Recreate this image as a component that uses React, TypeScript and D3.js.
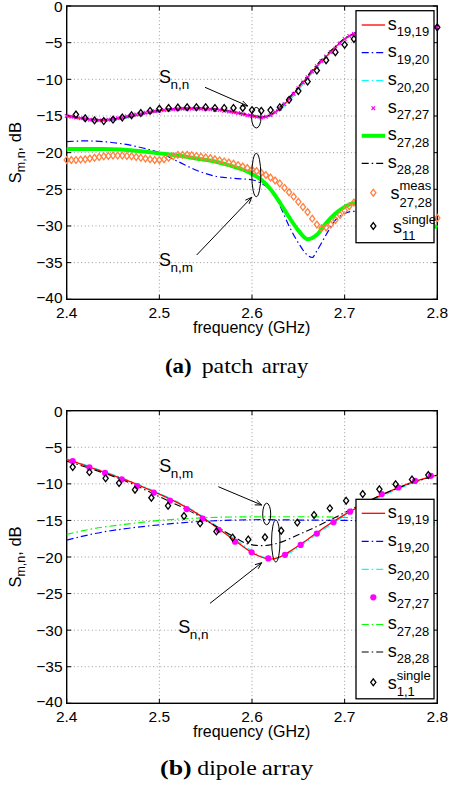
import React from "react";
import * as d3 from "d3";

// ---------- axis ticks ----------
const xTicks = [2.4, 2.5, 2.6, 2.7, 2.8];
const xTickLabels = ["2.4", "2.5", "2.6", "2.7", "2.8"];
const yTicks = [-40, -35, -30, -25, -20, -15, -10, -5, 0];
const yTickLabels = ["\u221240", "\u221235", "\u221230", "\u221225", "\u221220", "\u221215", "\u221210", "\u22125", "0"];

// ---------- (a) patch array ----------
const fineFreq = [
  2.400, 2.405, 2.410, 2.415, 2.420, 2.425, 2.430, 2.435, 2.440, 2.445,
  2.450, 2.455, 2.460, 2.465, 2.470, 2.475, 2.480, 2.485, 2.490, 2.495,
  2.500, 2.505, 2.510, 2.515, 2.520, 2.525, 2.530, 2.535, 2.540, 2.545,
  2.550, 2.555, 2.560, 2.565, 2.570, 2.575, 2.580, 2.585, 2.590, 2.595,
  2.600, 2.605, 2.610, 2.615, 2.620, 2.625, 2.630, 2.635, 2.640, 2.645,
  2.650, 2.655, 2.660, 2.665, 2.670, 2.675, 2.680, 2.685, 2.690, 2.695,
  2.700, 2.705, 2.710, 2.715, 2.720, 2.725, 2.730, 2.735, 2.740, 2.745,
  2.750, 2.755, 2.760, 2.765, 2.770, 2.775, 2.780, 2.785, 2.790, 2.795,
  2.800,
];
const patchS2727 = [
  -15.0, -15.1, -15.2, -15.3, -15.4, -15.5, -15.55, -15.6, -15.6, -15.5,
  -15.4, -15.3, -15.2, -15.05, -14.9, -14.8, -14.7, -14.55, -14.45, -14.35,
  -14.3, -14.2, -14.15, -14.1, -14.05, -14.0, -14.0, -14.0, -14.0, -14.0,
  -14.05, -14.1, -14.15, -14.2, -14.3, -14.4, -14.5, -14.6, -14.75, -14.9,
  -15.0, -15.1, -15.2, -15.1, -14.9, -14.5, -14.0, -13.4, -12.7, -12.0,
  -11.2, -10.45, -9.7, -8.95, -8.2, -7.5, -6.9, -6.3, -5.8, -5.1,
  -4.5, -4.1, -3.8, -3.5, -3.3, -3.15, -3.05, -2.95, -2.9, -2.85,
  -2.8, -2.8, -2.8, -2.8, -2.8, -2.8, -2.85, -2.85, -2.9, -2.9,
  -2.9,
];
const patchS2728meas = [
  -21.0, -21.0, -21.0, -20.95, -20.9, -20.8, -20.7, -20.6, -20.5, -20.45,
  -20.4, -20.4, -20.4, -20.45, -20.5, -20.6, -20.7, -20.8, -20.9, -21.0,
  -21.0, -20.9, -20.7, -20.5, -20.3, -20.3, -20.3, -20.35, -20.45, -20.55,
  -20.65, -20.75, -20.9, -21.05, -21.2, -21.35, -21.5, -21.7, -21.9, -22.1,
  -22.3, -22.5, -22.75, -23.05, -23.4, -23.8, -24.2, -24.8, -25.4, -26.0,
  -26.7, -27.4, -28.1, -29.0, -29.8, -30.3, -30.2, -29.8, -29.2, -28.5,
  -27.9, -27.3, -26.8, -26.6, -26.5, -26.5, -26.6, -26.7, -26.9, -27.1,
  -27.3, -27.5, -27.7, -27.9, -28.1, -28.3, -28.5, -28.6, -28.7, -28.8,
  -28.9,
];
const patchSelfFreq = [2.40, 2.42, 2.44, 2.46, 2.48, 2.50, 2.52, 2.54, 2.56, 2.58, 2.60, 2.61, 2.62, 2.63, 2.64, 2.65, 2.66, 2.67, 2.68, 2.69, 2.70, 2.71, 2.72, 2.74, 2.76, 2.78, 2.80];
const patchS1919 = [-15.0, -15.4, -15.6, -15.3, -14.8, -14.3, -14.05, -14.0, -14.1, -14.5, -15.0, -15.2, -14.9, -14.0, -12.7, -11.2, -9.7, -8.2, -6.9, -5.6, -4.5, -3.8, -3.35, -2.95, -2.8, -2.85, -2.9];
const patchS2020 = [-15.1, -15.5, -15.7, -15.4, -14.9, -14.4, -14.1, -14.05, -14.15, -14.55, -15.05, -15.25, -15.0, -14.2, -13.0, -11.5, -9.9, -8.4, -7.0, -5.7, -4.6, -3.9, -3.4, -3.0, -2.85, -2.85, -2.9];
const patchS2828 = [-14.9, -15.3, -15.5, -15.2, -14.7, -14.2, -13.95, -13.9, -14.0, -14.4, -14.9, -15.1, -14.8, -13.8, -12.5, -11.0, -9.5, -8.0, -6.7, -5.5, -4.4, -3.7, -3.3, -2.9, -2.8, -2.8, -2.9];
const patchS1920Freq = [2.40, 2.42, 2.44, 2.46, 2.48, 2.50, 2.52, 2.54, 2.56, 2.58, 2.60, 2.61, 2.62, 2.63, 2.64, 2.65, 2.66, 2.665, 2.67, 2.68, 2.69, 2.70, 2.71, 2.73, 2.76, 2.80];
const patchS1920 = [-18.5, -18.4, -18.5, -18.8, -19.3, -20.0, -21.2, -22.4, -23.2, -23.5, -23.7, -24.2, -25.1, -27.2, -30.0, -32.3, -34.0, -34.3, -33.4, -31.2, -29.2, -28.3, -28.0, -28.2, -29.2, -31.0];
const patchS2728Freq = [2.40, 2.44, 2.48, 2.50, 2.52, 2.54, 2.56, 2.58, 2.59, 2.60, 2.61, 2.62, 2.63, 2.64, 2.65, 2.66, 2.67, 2.68, 2.69, 2.70, 2.71, 2.73, 2.76, 2.80];
const patchS2728 = [-19.5, -19.5, -19.8, -20.1, -20.4, -20.8, -21.2, -21.9, -22.3, -22.9, -23.7, -25.0, -26.8, -28.8, -30.6, -31.8, -31.2, -29.6, -28.3, -27.4, -26.9, -26.9, -28.0, -30.2];
const patchSingleFreq = [2.41, 2.42, 2.43, 2.44, 2.45, 2.46, 2.47, 2.48, 2.49, 2.50, 2.51, 2.52, 2.53, 2.54, 2.55, 2.56, 2.57, 2.58, 2.59, 2.60, 2.61, 2.62, 2.63, 2.64, 2.65, 2.66, 2.67, 2.68, 2.69, 2.70, 2.71, 2.72, 2.73, 2.74, 2.75, 2.76, 2.77, 2.78, 2.79, 2.80];
const patchSingle = [-14.8, -15.3, -15.6, -15.7, -15.5, -15.2, -14.9, -14.6, -14.3, -14.0, -13.9, -13.85, -13.8, -13.8, -13.8, -13.9, -13.9, -13.9, -13.9, -14.2, -14.3, -14.2, -13.8, -12.8, -11.6, -10.3, -8.8, -7.4, -6.3, -5.3, -4.5, -3.9, -3.5, -3.2, -3.0, -2.9, -2.85, -2.85, -2.9, -2.9];

// ---------- (b) dipole array ----------
const dipSelfFreq = [2.40, 2.42, 2.44, 2.46, 2.48, 2.50, 2.52, 2.54, 2.56, 2.58, 2.60, 2.61, 2.62, 2.63, 2.64, 2.66, 2.68, 2.70, 2.72, 2.74, 2.76, 2.78, 2.80];
const dipS1919 = [-6.7, -7.5, -8.4, -9.3, -10.3, -11.4, -12.6, -14.0, -15.8, -17.6, -19.4, -20.0, -20.3, -20.0, -19.3, -17.6, -15.8, -14.2, -12.8, -11.5, -10.4, -9.5, -8.8];
const dipS2020 = [-6.6, -7.4, -8.3, -9.2, -10.2, -11.3, -12.5, -13.9, -15.6, -17.4, -19.2, -19.9, -20.3, -20.1, -19.5, -17.8, -16.0, -14.4, -13.0, -11.7, -10.6, -9.6, -8.9];
const dipS2727Freq = [2.4065, 2.4245, 2.4414, 2.4594, 2.476, 2.494, 2.5115, 2.5295, 2.5468, 2.564, 2.5817, 2.5996, 2.6176, 2.6356, 2.6525, 2.670, 2.688, 2.7058, 2.7238, 2.740, 2.758, 2.776, 2.793];
const dipS2727 = [-6.9, -7.75, -8.5, -9.4, -10.3, -11.2, -12.3, -13.45, -14.75, -16.3, -17.9, -19.35, -20.2, -19.7, -18.35, -16.8, -15.25, -13.8, -12.6, -11.4, -10.5, -9.6, -8.9];
const dipS2828Freq = [2.40, 2.43, 2.465, 2.50, 2.537, 2.562, 2.58, 2.595, 2.61, 2.625, 2.652, 2.688, 2.713, 2.74, 2.77, 2.80];
const dipS2828 = [-6.9, -8.1, -9.7, -11.75, -14.0, -15.85, -17.2, -18.2, -18.45, -18.2, -16.85, -14.7, -13.1, -11.5, -10.0, -8.8];
const dipS2728Freq = [2.40, 2.43, 2.465, 2.50, 2.537, 2.57, 2.61, 2.66, 2.70, 2.74, 2.77, 2.80];
const dipS2728 = [-16.9, -16.1, -15.5, -15.0, -14.7, -14.55, -14.5, -14.5, -14.6, -14.9, -15.2, -15.6];
const dipS1920Freq = [2.40, 2.43, 2.465, 2.50, 2.537, 2.57, 2.61, 2.65, 2.70, 2.75, 2.80];
const dipS1920 = [-17.7, -16.8, -16.1, -15.6, -15.2, -15.0, -14.9, -14.95, -15.0, -15.1, -15.3];
const dipSingleFreq = [2.4065, 2.4245, 2.442, 2.4565, 2.4737, 2.4914, 2.5094, 2.5266, 2.544, 2.5616, 2.579, 2.596, 2.614, 2.6315, 2.6489, 2.667, 2.684, 2.7016, 2.7195, 2.7375, 2.755, 2.7727, 2.7903];
const dipSingle = [-7.7, -8.4, -9.25, -9.9, -10.8, -11.9, -13.0, -14.4, -15.4, -16.5, -17.35, -17.6, -17.3, -16.4, -15.3, -14.25, -13.35, -12.3, -11.4, -10.75, -10.05, -9.4, -8.8];

// ---------- legends ----------
const patchLegend = [
  { sub: "19,19", sup: "" }, { sub: "19,20", sup: "" }, { sub: "20,20", sup: "" }, { sub: "27,27", sup: "" },
  { sub: "27,28", sup: "" }, { sub: "28,28", sup: "" }, { sub: "27,28", sup: "meas" }, { sub: "11", sup: "single" },
];
const dipoleLegend = [
  { sub: "19,19", sup: "" }, { sub: "19,20", sup: "" }, { sub: "20,20", sup: "" }, { sub: "27,27", sup: "" },
  { sub: "27,28", sup: "" }, { sub: "28,28", sup: "" }, { sub: "1,1", sup: "single" },
];

// ---------- styling ----------
const SANS = "'Liberation Sans', Arial, Helvetica, sans-serif";
const SERIF = "'Liberation Serif', 'Times New Roman', serif";
const DASHDOT = "7,3,1.5,3";
const X_LEFT = 66.7;
const X_RIGHT = 437.3;
const RED = "#ff0000", BLUE = "#0000ff", CYAN = "#00ffff", MAG = "#ff00ff", GREEN = "#00ff00", ORANGE = "#ff8040";

type Pt = [number, number];
const zip = (f: number[], v: number[]): Pt[] => f.map((x, i) => [x, v[i]]);
const diamond = "M0,-3.4L2.6,0L0,3.4L-2.6,0Z";

function Arrow({ x1, y1, x2, y2 }: { x1: number; y1: number; x2: number; y2: number }) {
  const a = Math.atan2(y2 - y1, x2 - x1);
  const L = 7, s = 0.38;
  const p1 = [x2 - L * Math.cos(a - s), y2 - L * Math.sin(a - s)];
  const p2 = [x2 - L * Math.cos(a + s), y2 - L * Math.sin(a + s)];
  return (
    <g stroke="#000" strokeWidth={1} fill="none">
      <line x1={x1} y1={y1} x2={x2} y2={y2} />
      <path d={`M${p1[0]},${p1[1]}L${x2},${y2}L${p2[0]},${p2[1]}`} />
    </g>
  );
}

function SLabel({ x, y, main, sub }: { x: number; y: number; main: string; sub: string }) {
  return (
    <text fontFamily={SANS} fill="#000">
      <tspan x={x} y={y} fontSize={18}>{main}</tspan>
      <tspan x={x + 11.5} y={y + 6} fontSize={13.5}>{sub}</tspan>
    </text>
  );
}

function Frame({ yTop, yBot, x, y }: { yTop: number; yBot: number; x: any; y: any }) {
  const tl = 4.5;
  return (
    <g>
      {xTicks.slice(1, -1).map((t) => (
        <line key={"gx" + t} x1={x(t)} x2={x(t)} y1={yTop} y2={yBot} stroke="#9a9a9a" strokeWidth={1} strokeDasharray="1,2.6" />
      ))}
      {yTicks.slice(1, -1).map((t) => (
        <line key={"gy" + t} x1={X_LEFT} x2={X_RIGHT} y1={y(t)} y2={y(t)} stroke="#9a9a9a" strokeWidth={1} strokeDasharray="1,2.6" />
      ))}
      <rect x={X_LEFT} y={yTop} width={X_RIGHT - X_LEFT} height={yBot - yTop} fill="none" stroke="#000" strokeWidth={1.4} />
      {xTicks.map((t) => (
        <g key={"tx" + t}>
          <line x1={x(t)} x2={x(t)} y1={yBot} y2={yBot - tl} stroke="#000" />
          <line x1={x(t)} x2={x(t)} y1={yTop} y2={yTop + tl} stroke="#000" />
        </g>
      ))}
      {yTicks.map((t) => (
        <g key={"ty" + t}>
          <line x1={X_LEFT} x2={X_LEFT + tl} y1={y(t)} y2={y(t)} stroke="#000" />
          <line x1={X_RIGHT} x2={X_RIGHT - tl} y1={y(t)} y2={y(t)} stroke="#000" />
        </g>
      ))}
      {xTicks.map((t, i) => (
        <text key={"lx" + t} x={x(t)} y={yBot + 18.5} textAnchor="middle" fontFamily={SANS} fontSize={15.5} fill="#000">
          {xTickLabels[i]}
        </text>
      ))}
      {yTicks.map((t, i) => (
        <text key={"ly" + t} x={62.5} y={y(t) + (t === -40 ? 4 : t === 0 ? 6 : 5.5)} textAnchor="end" fontFamily={SANS} fontSize={15.5} fill="#000">
          {yTickLabels[i]}
        </text>
      ))}
      <text x={251.7} y={yBot + 33.5} textAnchor="middle" fontFamily={SANS} fontSize={16} fill="#000">frequency (GHz)</text>
      <text transform={`translate(20.5, ${(yTop + yBot) / 2}) rotate(-90)`} textAnchor="middle" fontFamily={SANS} fill="#000">
        <tspan fontSize={16.5}>S</tspan>
        <tspan fontSize={12.5} dy={4.5}>m,n</tspan>
        <tspan fontSize={16.5} dy={-4.5}>, dB</tspan>
      </text>
    </g>
  );
}

function LegendEntryText({ lx, ly, sub, sup }: { lx: number; ly: number; sub: string; sup: string }) {
  if (!sup) {
    return (
      <text fontFamily={SANS} fill="#000">
        <tspan x={lx} y={ly + 4.5} fontSize={18}>s</tspan>
        <tspan x={lx + 9} y={ly + 11} fontSize={13}>{sub}</tspan>
      </text>
    );
  }
  return (
    <text fontFamily={SANS} fill="#000">
      <tspan x={lx} y={ly + 6.5} fontSize={18}>s</tspan>
      <tspan x={lx + 9} y={ly - 2.5} fontSize={13}>{sup}</tspan>
      <tspan x={lx + 9} y={ly + 14} fontSize={13}>{sub}</tspan>
    </text>
  );
}

function Caption({ y, tag, words }: { y: number; tag: [string, number, number]; words: [string, number, number][] }) {
  return (
    <g fontFamily={SERIF} fill="#000" fontSize={21}>
      <text x={tag[1]} y={y} fontWeight="bold" textLength={tag[2]} lengthAdjust="spacingAndGlyphs">{tag[0]}</text>
      {words.map((w) => (
        <text key={w[0]} x={w[1]} y={y} textLength={w[2]} lengthAdjust="spacingAndGlyphs">{w[0]}</text>
      ))}
    </g>
  );
}

export default function App() {
  const x = d3.scaleLinear().domain([2.4, 2.8]).range([X_LEFT, X_RIGHT]);
  const yA = d3.scaleLinear().domain([-40, 0]).range([299.3, 6]);
  const yB = d3.scaleLinear().domain([-40, 0]).range([703.3, 410.7]);
  const lineA = d3.line<Pt>().x((d) => x(d[0])).y((d) => yA(d[1])).curve(d3.curveMonotoneX);
  const lineB = d3.line<Pt>().x((d) => x(d[0])).y((d) => yB(d[1])).curve(d3.curveMonotoneX);

  // legend geometry
  const legX0 = 356, legX1 = 434;
  const sampA = [25, 52.7, 80.5, 108.2, 135.8, 163.4, 192.7, 226];
  const sampB = [513.3, 541.3, 569.3, 597.3, 624.5, 652, 682.3];
  const lineFrom = 361.7, lineTo = 385, mk = 373.3;

  return (
    <svg width={451} height={787} style={{ position: "absolute", left: 0, top: 0, background: "#fff" }}>
      <rect x={0} y={0} width={451} height={787} fill="#fff" />
      {/* ===== (a) patch array ===== */}
      <Frame yTop={6} yBot={299.3} x={x} y={yA} />
      <g fill="none">
        <path d={lineA(zip(patchS1920Freq, patchS1920)) || ""} stroke={BLUE} strokeWidth={1.2} strokeDasharray={DASHDOT} />
        <path d={lineA(zip(patchS2728Freq, patchS2728)) || ""} stroke={GREEN} strokeWidth={4} />
        <path d={lineA(zip(patchSelfFreq, patchS2020)) || ""} stroke={CYAN} strokeWidth={1.2} strokeDasharray={DASHDOT} />
        <path d={lineA(zip(patchSelfFreq, patchS1919)) || ""} stroke={RED} strokeWidth={1.3} />
        <path d={lineA(zip(patchSelfFreq, patchS2828)) || ""} stroke="#000" strokeWidth={1.1} strokeDasharray={DASHDOT} />
      </g>
      <g stroke={MAG} strokeWidth={1.2}>
        {zip(fineFreq, patchS2727).map((d, i) => (
          <path key={"mx" + i} d={`M${x(d[0]) - 1.8},${yA(d[1]) - 1.8}L${x(d[0]) + 1.8},${yA(d[1]) + 1.8}M${x(d[0]) - 1.8},${yA(d[1]) + 1.8}L${x(d[0]) + 1.8},${yA(d[1]) - 1.8}`} />
        ))}
      </g>
      <g fill="none" stroke={ORANGE} strokeWidth={1.3}>
        {zip(fineFreq, patchS2728meas).map((d, i) => (
          <path key={"od" + i} d={diamond} transform={`translate(${x(d[0])},${yA(d[1])})`} />
        ))}
      </g>
      <g fill="none" stroke="#000" strokeWidth={1.3}>
        {zip(patchSingleFreq, patchSingle).map((d, i) => (
          <path key={"bd" + i} d={diamond} transform={`translate(${x(d[0])},${yA(d[1])})`} />
        ))}
      </g>
      <SLabel x={159} y={82.7} main="S" sub="n,n" />
      <SLabel x={159} y={265.5} main="S" sub="n,m" />
      <Arrow x1={205} y1={87.3} x2={247.7} y2={106} />
      <Arrow x1={196.7} y1={255} x2={251.7} y2={197.3} />
      <ellipse cx={256.3} cy={117.7} rx={4.7} ry={10.3} fill="none" stroke="#000" strokeWidth={1} />
      <ellipse cx={256.3} cy={175} rx={4.5} ry={21.7} fill="none" stroke="#000" strokeWidth={1} />
      {/* legend a */}
      <rect x={legX0} y={10.7} width={legX1 - legX0} height={232} fill="#fff" stroke="#000" strokeWidth={1.3} />
      <line x1={lineFrom} x2={lineTo} y1={sampA[0]} y2={sampA[0]} stroke={RED} strokeWidth={1.3} />
      <line x1={lineFrom} x2={lineTo} y1={sampA[1]} y2={sampA[1]} stroke={BLUE} strokeWidth={1.2} strokeDasharray={DASHDOT} />
      <line x1={lineFrom} x2={lineTo} y1={sampA[2]} y2={sampA[2]} stroke={CYAN} strokeWidth={1.2} strokeDasharray={DASHDOT} />
      <path d={`M${mk - 1.8},${sampA[3] - 1.8}L${mk + 1.8},${sampA[3] + 1.8}M${mk - 1.8},${sampA[3] + 1.8}L${mk + 1.8},${sampA[3] - 1.8}`} stroke={MAG} strokeWidth={1.2} />
      <line x1={lineFrom} x2={lineTo} y1={sampA[4]} y2={sampA[4]} stroke={GREEN} strokeWidth={4} />
      <line x1={lineFrom} x2={lineTo} y1={sampA[5]} y2={sampA[5]} stroke="#000" strokeWidth={1.1} strokeDasharray={DASHDOT} />
      <path d={diamond} transform={`translate(${mk},${sampA[6]})`} fill="none" stroke={ORANGE} strokeWidth={1.3} />
      <path d={diamond} transform={`translate(${mk},${sampA[7]})`} fill="none" stroke="#000" strokeWidth={1.3} />
      {patchLegend.map((e, i) => (
        <LegendEntryText key={"la" + i} lx={i === 6 ? 390.5 : i === 7 ? 393 : 387.7} ly={sampA[i]} sub={e.sub} sup={e.sup} />
      ))}
      <Caption y={372.5} tag={["(a)", 165, 26.7]} words={[["patch", 201.7, 51.6], ["array", 261.7, 46.6]]} />

      {/* ===== (b) dipole array ===== */}
      <Frame yTop={410.7} yBot={703.3} x={x} y={yB} />
      <g fill="none">
        <path d={lineB(zip(dipS1920Freq, dipS1920)) || ""} stroke={BLUE} strokeWidth={1.2} strokeDasharray={DASHDOT} />
        <path d={lineB(zip(dipS2728Freq, dipS2728)) || ""} stroke={GREEN} strokeWidth={1.2} strokeDasharray={DASHDOT} />
        <path d={lineB(zip(dipSelfFreq, dipS2020)) || ""} stroke={CYAN} strokeWidth={1.2} strokeDasharray={DASHDOT} />
        <path d={lineB(zip(dipSelfFreq, dipS1919)) || ""} stroke={RED} strokeWidth={1.3} />
        <path d={lineB(zip(dipS2828Freq, dipS2828)) || ""} stroke="#000" strokeWidth={1.1} strokeDasharray={DASHDOT} />
      </g>
      <g fill={MAG}>
        {zip(dipS2727Freq, dipS2727).map((d, i) => (
          <circle key={"mc" + i} cx={x(d[0])} cy={yB(d[1])} r={3.1} />
        ))}
      </g>
      <g fill="none" stroke="#000" strokeWidth={1.3}>
        {zip(dipSingleFreq, dipSingle).map((d, i) => (
          <path key={"bb" + i} d={diamond} transform={`translate(${x(d[0])},${yB(d[1])})`} />
        ))}
      </g>
      <SLabel x={159.3} y={471.5} main="S" sub="n,m" />
      <SLabel x={178.3} y={633} main="S" sub="n,n" />
      <Arrow x1={218.3} y1={486.7} x2={261.7} y2={505} />
      <Arrow x1={210} y1={603.3} x2={261.7} y2={562.7} />
      <ellipse cx={266.7} cy={514} rx={4} ry={10.8} fill="none" stroke="#000" strokeWidth={1} />
      <ellipse cx={275.8} cy={541} rx={4.2} ry={21} fill="none" stroke="#000" strokeWidth={1} />
      {/* legend b */}
      <rect x={legX0} y={499.3} width={legX1 - legX0} height={199.5} fill="#fff" stroke="#000" strokeWidth={1.3} />
      <line x1={lineFrom} x2={lineTo} y1={sampB[0]} y2={sampB[0]} stroke={RED} strokeWidth={1.3} />
      <line x1={lineFrom} x2={lineTo} y1={sampB[1]} y2={sampB[1]} stroke={BLUE} strokeWidth={1.2} strokeDasharray={DASHDOT} />
      <line x1={lineFrom} x2={lineTo} y1={sampB[2]} y2={sampB[2]} stroke={CYAN} strokeWidth={1.2} strokeDasharray={DASHDOT} />
      <circle cx={mk} cy={sampB[3]} r={3.1} fill={MAG} />
      <line x1={lineFrom} x2={lineTo} y1={sampB[4]} y2={sampB[4]} stroke={GREEN} strokeWidth={1.2} strokeDasharray={DASHDOT} />
      <line x1={lineFrom} x2={lineTo} y1={sampB[5]} y2={sampB[5]} stroke="#000" strokeWidth={1.1} strokeDasharray={DASHDOT} />
      <path d={diamond} transform={`translate(${mk},${sampB[6]})`} fill="none" stroke="#000" strokeWidth={1.3} />
      {dipoleLegend.map((e, i) => (
        <LegendEntryText key={"lb" + i} lx={387.7} ly={sampB[i]} sub={e.sub} sup={e.sup} />
      ))}
      <Caption y={775} tag={["(b)", 160, 31.7]} words={[["dipole", 197.3, 59.4], ["array", 261.7, 51.6]]} />
    </svg>
  );
}
